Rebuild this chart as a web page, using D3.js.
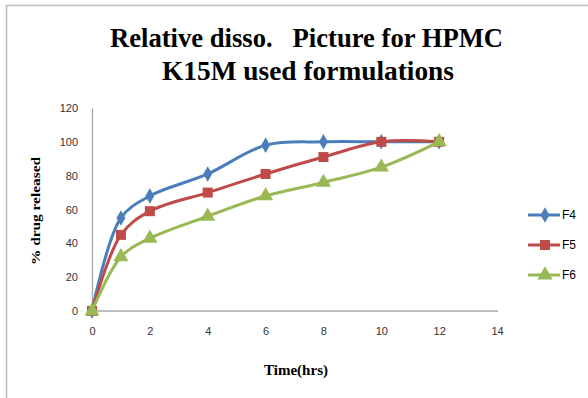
<!DOCTYPE html>
<html>
<head>
<meta charset="utf-8">
<script src="https://cdn.jsdelivr.net/npm/d3@7"></script>
<style>
body { margin: 0; background: #fff; }
</style>
</head>
<body>
<svg id="chart" width="588" height="398"></svg>
<script>
// data
var hours = [0, 1, 2, 4, 6, 8, 10, 12];
var f4 = [0, 55, 68, 81, 98, 100, 100, 100];
var f5 = [0, 45, 59, 70, 81, 91, 100, 100];
var f6 = [0, 32, 43, 56, 68, 76, 85, 100];
var seriesNames = ["F4", "F5", "F6"];
var xTicks = [0, 2, 4, 6, 8, 10, 12, 14];
var yTicks = [0, 20, 40, 60, 80, 100, 120];

var colors = ["#4A7EBB", "#BE4B48", "#98B954"];
var shapes = [d3.symbolDiamond, d3.symbolSquare, d3.symbolTriangle];
var sizes = [70, 100, 100];

var svg = d3.select("#chart");

// outer frame
svg.append("rect")
	.attr("x", 6.5).attr("y", 5.5)
	.attr("width", 600).attr("height", 420)
	.attr("fill", "none").attr("stroke", "#bdbdbd").attr("stroke-width", 1.5);

var x = d3.scaleLinear().domain([0, 14]).range([92, 497]);
var y = d3.scaleLinear().domain([0, 120]).range([311, 108]);

// title (nbsp keeps the wide gap)
var title = svg.append("g")
	.attr("font-family", "'Liberation Serif', 'Times New Roman', serif")
	.attr("font-weight", "bold")
	.attr("font-size", 28)
	.attr("fill", "#000");
title.append("text").attr("x", 110).attr("y", 47)
	.attr("textLength", 393).attr("lengthAdjust", "spacingAndGlyphs")
	.text("Relative disso.\u00a0\u00a0 Picture for HPMC");
title.append("text").attr("x", 162).attr("y", 80)
	.attr("textLength", 292).attr("lengthAdjust", "spacingAndGlyphs")
	.text("K15M used formulations");

// axes
var xAxis = svg.append("g").attr("transform", "translate(0," + y(0) + ")")
	.call(d3.axisBottom(x).tickValues(xTicks).tickSize(0).tickPadding(16));
var yAxis = svg.append("g").attr("transform", "translate(" + x(0) + ",0)")
	.call(d3.axisLeft(y).tickValues(yTicks).tickSize(0).tickPadding(14));

[xAxis, yAxis].forEach(function(a) {
	a.select(".domain").attr("stroke", "#a6a6a6").attr("stroke-width", 1.3);
	a.selectAll("text")
		.attr("font-family", "'Liberation Sans', Arial, sans-serif")
		.attr("font-size", 11)
		.attr("fill", "#333");
});
xAxis.select(".domain").attr("d", "M" + x(0) + ",0H498");

// axis titles
svg.append("text")
	.attr("x", 296).attr("y", 375)
	.attr("text-anchor", "middle")
	.attr("font-family", "'Liberation Serif', 'Times New Roman', serif")
	.attr("font-weight", "bold").attr("font-size", 14)
	.attr("textLength", 64).attr("lengthAdjust", "spacingAndGlyphs")
	.text("Time(hrs)");
svg.append("text")
	.attr("transform", "translate(40,211) rotate(-90)")
	.attr("text-anchor", "middle")
	.attr("font-family", "'Liberation Serif', 'Times New Roman', serif")
	.attr("font-weight", "bold").attr("font-size", 13)
	.attr("textLength", 108).attr("lengthAdjust", "spacingAndGlyphs")
	.text("% drug released");

// series
var allSeries = [f4, f5, f6].map(function(vals, i) {
	return { name: seriesNames[i], points: hours.map(function(h, j) { return { h: h, v: vals[j] }; }) };
});

var line = d3.line()
	.x(function(d) { return x(d.h); })
	.y(function(d) { return y(d.v); })
	.curve(d3.curveCatmullRom.alpha(0.5));

var series = svg.selectAll("g.series").data(allSeries).enter().append("g").attr("class", "series");

series.append("path")
	.attr("d", function(d) { return line(d.points); })
	.attr("fill", "none")
	.attr("stroke", function(d, i) { return colors[i]; })
	.attr("stroke-width", 3)
	.attr("stroke-linejoin", "round");

series.each(function(s, i) {
	d3.select(this).selectAll("path.mark").data(s.points).enter().append("path")
		.attr("class", "mark")
		.attr("transform", function(d) { return "translate(" + x(d.h) + "," + y(d.v) + ")"; })
		.attr("d", d3.symbol().type(shapes[i]).size(sizes[i]))
		.attr("fill", colors[i]);
});

// legend
var legend = svg.selectAll("g.legend").data(seriesNames).enter().append("g")
	.attr("class", "legend")
	.attr("transform", function(d, i) { return "translate(528," + (215 + i * 30) + ")"; });
legend.append("line")
	.attr("x1", 0).attr("x2", 32)
	.attr("stroke", function(d, i) { return colors[i]; })
	.attr("stroke-width", 3);
legend.append("path")
	.attr("transform", "translate(17,0)")
	.attr("d", function(d, i) { return d3.symbol().type(shapes[i]).size(sizes[i])(); })
	.attr("fill", function(d, i) { return colors[i]; });
legend.append("text")
	.attr("x", 34).attr("y", 4)
	.attr("font-family", "'Liberation Sans', Arial, sans-serif")
	.attr("font-size", 12)
	.attr("fill", "#000")
	.text(function(d) { return d; });
</script>
</body>
</html>
